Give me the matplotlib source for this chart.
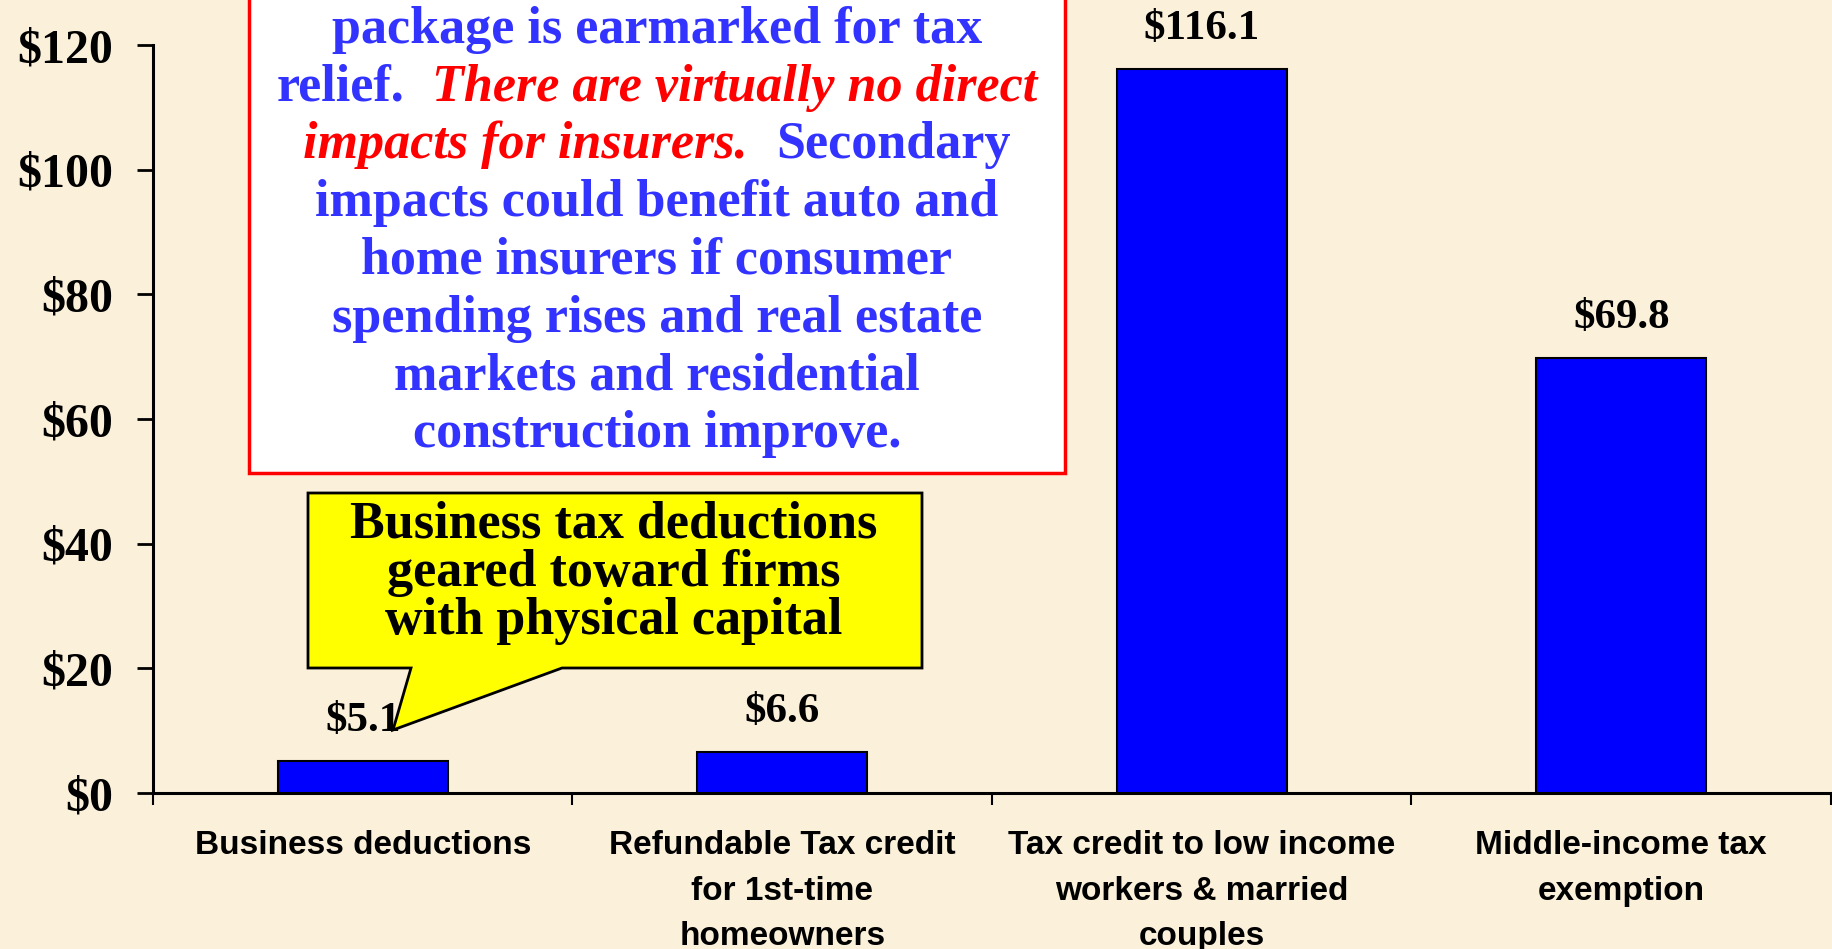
import matplotlib
matplotlib.use("Agg")
import matplotlib.pyplot as plt
from matplotlib.patches import Rectangle, Polygon

W, H = 1833, 949

categories = [
    "Business deductions",
    "Refundable Tax credit\nfor 1st-time\nhomeowners",
    "Tax credit to low income\nworkers & married\ncouples",
    "Middle-income tax\nexemption",
]
values = [5.1, 6.6, 116.1, 69.8]
value_labels = ["$5.1", "$6.6", "$116.1", "$69.8"]
y_ticks = [0, 20, 40, 60, 80, 100, 120]
y_tick_labels = ["$0", "$20", "$40", "$60", "$80", "$100", "$120"]

box_lines = [
    [("package is earmarked for tax", "blue")],
    [("relief.", "blue"), ("There are virtually no direct", "red")],
    [("impacts for insurers.", "red"), ("Secondary", "blue")],
    [("impacts could benefit auto and", "blue")],
    [("home insurers if consumer", "blue")],
    [("spending rises and real estate", "blue")],
    [("markets and residential", "blue")],
    [("construction improve.", "blue")],
]
callout_lines = [
    "Business tax deductions",
    "geared toward firms",
    "with physical capital",
]

BG = "#fbf1db"
BLUE_TXT = "#3333ff"
SERIF = "Liberation Serif"
SANS = "Liberation Sans"


def px(x, y):
    return x / W, 1 - y / H


fig = plt.figure(figsize=(W / 100, H / 100), dpi=100, facecolor=BG)
ax = fig.add_axes([153 / W, 1 - 793 / H, (1831 - 153) / W, (793 - 45) / H])
ax.set_facecolor("none")

x = range(len(values))
ax.bar(x, values, width=0.405, color="#0000ff", edgecolor="black", linewidth=1.5, zorder=3)
for xi, v, lab in zip(x, values, value_labels):
    ax.annotate(lab, (xi, v), xytext=(0, 21.5), textcoords="offset points",
                ha="center", va="baseline", fontsize=31, fontweight="bold",
                family=SERIF, color="black")

ax.set_xlim(-0.5, 3.5)
ax.set_ylim(0, 120)
for s in ["top", "right"]:
    ax.spines[s].set_visible(False)
for s in ["left", "bottom"]:
    ax.spines[s].set_linewidth(2.2)

ax.set_yticks(y_ticks)
ax.set_yticklabels(y_tick_labels, fontsize=34.5, fontweight="bold", family=SERIF)
ax.tick_params(axis="y", length=11.5, width=2, direction="out", pad=17)

ax.set_xticks(list(x))
ax.set_xticklabels(categories, fontsize=24, fontweight="bold", family=SANS, va="top")
for t in ax.get_xticklabels():
    t.set_linespacing(1.6)
ax.tick_params(axis="x", which="major", length=0, pad=27)
ax.set_xticks([-0.5, 0.5, 1.5, 2.5, 3.5], minor=True)
ax.tick_params(axis="x", which="minor", length=8.6, width=1.5, direction="out")

# red-bordered note box (top cut off by the slide edge)
fig.patches.append(Rectangle(px(249, 473), (1065 - 249) / W, 600 / H,
                             transform=fig.transFigure, facecolor="white",
                             edgecolor="red", linewidth=2.5, zorder=5))

renderer = fig.canvas.get_renderer()
cx = 657
gap = 28
for i, pieces in enumerate(box_lines):
    yb = 43 + i * 57.7
    texts = []
    for s, c in pieces:
        red = c == "red"
        t = fig.text(0, 1 - yb / H, s, fontsize=37.5, fontweight="bold",
                     family=SERIF, style="italic" if red else "normal",
                     color="red" if red else BLUE_TXT, ha="left", va="baseline",
                     zorder=6)
        texts.append(t)
    widths = [t.get_window_extent(renderer).width for t in texts]
    total = sum(widths) + gap * (len(texts) - 1)
    xs = cx - total / 2
    for t, w in zip(texts, widths):
        t.set_x(xs / W)
        xs += w + gap

# yellow speech-bubble callout
bubble = [(308, 493), (922, 493), (922, 668), (562, 668), (393, 730),
          (411, 668), (308, 668)]
fig.patches.append(Polygon([px(a, b) for a, b in bubble], closed=True,
                           transform=fig.transFigure, facecolor="#ffff00",
                           edgecolor="black", linewidth=2, zorder=5))
for i, s in enumerate(callout_lines):
    fig.text(614 / W, 1 - (538 + i * 48) / H, s, fontsize=37.5, fontweight="bold",
             family=SERIF, color="black", ha="center", va="baseline", zorder=6)

fig.savefig("out.png", dpi=100, facecolor=BG)
